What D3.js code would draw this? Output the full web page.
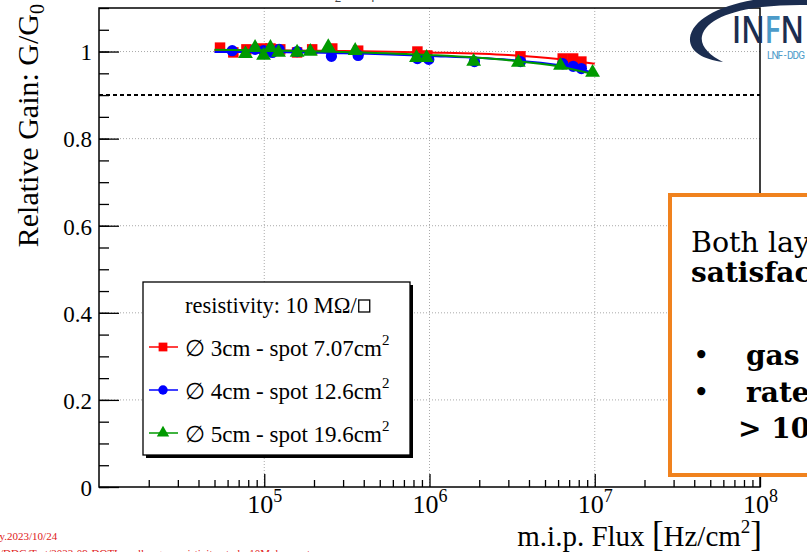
<!doctype html>
<html>
  <head>
    <script src="https://cdn.jsdelivr.net/npm/d3@7"></script>
    <style>
      body { margin: 0; background: #fff; }
      svg { display: block; }
      text { font-family: "Liberation Serif", "Times New Roman", serif; }
    </style>
  </head>
  <body>
    <svg id="chart" width="807" height="552"></svg>

    <script>
      // flux [Hz/cm2] and relative gain, one pair of arrays per beam spot
      var flux3cm = [5.4e4, 6.5e4, 7.8e4, 9.7e4, 1.09e5, 1.25e5, 1.58e5, 1.95e5, 2.58e5, 3.7e5, 8.45e5, 9.7e5, 3.55e6, 6.4e6, 7.4e6, 8.3e6];
      var gain3cm = [1.009, 0.998, 1.005, 1.007, 1.007, 1.005, 0.998, 1.005, 1.007, 1.002, 1.000, 0.991, 0.989, 0.984, 0.984, 0.977];

      var flux4cm = [6.4e4, 8.8e4, 9.9e4, 1.12e5, 1.23e5, 1.58e5, 2.55e5, 3.7e5, 8.45e5, 9.9e5, 1.87e6, 3.55e6, 6.4e6, 7.4e6, 8.3e6];
      var gain4cm = [1.002, 1.005, 1.002, 0.998, 1.005, 1.000, 0.989, 0.991, 0.984, 0.982, 0.977, 0.977, 0.972, 0.966, 0.961];

      var flux5cm = [7.7e4, 8.8e4, 9.9e4, 1.09e5, 1.22e5, 1.58e5, 1.9e5, 2.44e5, 3.55e5, 8.34e5, 9.6e5, 1.85e6, 3.45e6, 6.2e6, 9.7e6];
      var gain5cm = [0.995, 1.009, 0.991, 1.009, 0.998, 0.998, 1.000, 1.011, 1.002, 0.986, 0.986, 0.977, 0.975, 0.968, 0.952];

      // fit curves
      var fitFlux = [5e4, 1e5, 3e5, 1e6, 3e6, 6e6, 1e7];
      var fit3cm = [1.003, 1.003, 1.001, 0.998, 0.992, 0.983, 0.972];
      var fit4cm = [0.999, 0.999, 0.996, 0.990, 0.981, 0.969, 0.951];
      var fit5cm = [1.004, 1.003, 0.999, 0.992, 0.980, 0.966, 0.947];

      var legendLabels = ["3cm - spot 7.07cm", "4cm - spot 12.6cm", "5cm - spot 19.6cm"];
      var xMajor = [1e5, 1e6, 1e7, 1e8];
      var yMajor = [0, 0.2, 0.4, 0.6, 0.8, 1];
      var threshold = 0.9;

      var svg = d3.select("#chart");
      var x = d3.scaleLog().domain([1e4, 1e8]).range([99, 760]);
      var y = d3.scaleLinear().domain([0, 1.1]).range([487, 8]);

      // grid
      var grid = svg.append("g")
        .attr("stroke", "#aaa")
        .attr("stroke-width", 1)
        .attr("stroke-dasharray", "1,2");
      grid.selectAll(".gx").data([1e5, 1e6, 1e7]).enter().append("line")
        .attr("x1", d => x(d)).attr("x2", d => x(d))
        .attr("y1", 8).attr("y2", 487);
      grid.selectAll(".gy").data(yMajor.slice(1)).enter().append("line")
        .attr("x1", 99).attr("x2", 760)
        .attr("y1", d => y(d)).attr("y2", d => y(d));

      // 90% line
      svg.append("line")
        .attr("x1", 99).attr("x2", 760)
        .attr("y1", y(threshold)).attr("y2", y(threshold))
        .attr("stroke", "#000").attr("stroke-width", 2)
        .attr("stroke-dasharray", "4,3");

      // axes
      var xMinor = [];
      [1e4, 1e5, 1e6, 1e7].forEach(function(dec) {
        for (var k = 2; k <= 9; k++) xMinor.push(dec * k);
      });
      var yMinor = d3.range(0, 1.1001, 0.05).map(d => +d.toFixed(2));

      svg.append("g").attr("transform", "translate(0,487)")
        .call(d3.axisBottom(x).tickValues(xMinor).tickSize(-7).tickFormat(""))
        .call(g => g.select(".domain").remove());
      var xAxis = svg.append("g").attr("transform", "translate(0,487)")
        .call(d3.axisBottom(x).tickValues(xMajor).tickSize(-13).tickPadding(8).tickFormat(""))
        .call(g => g.select(".domain").remove());
      xAxis.selectAll(".tick text").remove();
      xAxis.selectAll(".tick").append("text")
        .attr("y", 26)
        .attr("fill", "#000")
        .attr("text-anchor", "middle")
        .style("font-size", "26px")
        .each(function(d) {
          var t = d3.select(this);
          t.append("tspan").text("10");
          t.append("tspan").attr("dy", -11).style("font-size", "18px").text(Math.round(Math.log10(d)));
        });

      svg.append("g").attr("transform", "translate(99,0)")
        .call(d3.axisLeft(y).tickValues(yMinor).tickSize(-10).tickFormat(""))
        .call(g => g.select(".domain").remove());
      svg.append("g").attr("transform", "translate(99,0)")
        .call(d3.axisLeft(y).tickValues(yMajor).tickSize(-20).tickPadding(7).tickFormat(d3.format("")))
        .call(g => g.select(".domain").remove())
        .call(g => g.selectAll("text").style("font-size", "23px").style("font-family", "Liberation Serif").attr("dy", "0.36em"));

      svg.selectAll(".tick line").attr("stroke", "#000").attr("stroke-width", 1.3);

      // frame
      svg.append("rect")
        .attr("x", 99).attr("y", 8).attr("width", 661).attr("height", 479)
        .attr("fill", "none").attr("stroke", "#000").attr("stroke-width", 1.5);

      // series
      var series = [
        {flux: flux3cm, gain: gain3cm, fit: fit3cm, color: "#ff0000", symbol: d3.symbolSquare, size: 110},
        {flux: flux4cm, gain: gain4cm, fit: fit4cm, color: "#0000ff", symbol: d3.symbolCircle, size: 100},
        {flux: flux5cm, gain: gain5cm, fit: fit5cm, color: "#009a00", symbol: d3.symbolTriangle, size: 95}
      ];

      var line = d3.line()
        .x(d => x(d[0]))
        .y(d => y(d[1]))
        .curve(d3.curveMonotoneX);

      series.forEach(function(s) {
        var pts = s.flux.map((f, i) => [f, s.gain[i]]);
        svg.append("g").selectAll("path").data(pts).enter().append("path")
          .attr("transform", d => "translate(" + x(d[0]) + "," + y(d[1]) + ")")
          .attr("d", d3.symbol().type(s.symbol).size(s.size))
          .attr("fill", s.color);
        svg.append("path")
          .datum(fitFlux.map((f, i) => [f, s.fit[i]]))
          .attr("d", line)
          .attr("fill", "none")
          .attr("stroke", s.color)
          .attr("stroke-width", 2);
      });

      // legend
      var leg = svg.append("g");
      leg.append("rect").attr("x", 146).attr("y", 285).attr("width", 267).attr("height", 173).attr("fill", "#000");
      leg.append("rect").attr("x", 143).attr("y", 282).attr("width", 267).attr("height", 173)
        .attr("fill", "#fff").attr("stroke", "#000").attr("stroke-width", 1.3);
      var title = leg.append("text").attr("x", 185).attr("y", 313).style("font-size", "22.5px")
        .text("resistivity: 10 M\u03A9/");
      var tw = title.node().getComputedTextLength();
      leg.append("rect").attr("x", 185 + tw + 2).attr("y", 300).attr("width", 11).attr("height", 12)
        .attr("fill", "none").attr("stroke", "#000").attr("stroke-width", 1.3);

      series.forEach(function(s, i) {
        var cy = 347 + i * 43;
        leg.append("line").attr("x1", 149).attr("x2", 178).attr("y1", cy).attr("y2", cy)
          .attr("stroke", s.color).attr("stroke-width", 1.5);
        leg.append("path").attr("transform", "translate(163," + cy + ")")
          .attr("d", d3.symbol().type(s.symbol).size(s.size * 0.7)).attr("fill", s.color);
        var t = leg.append("text").attr("x", 185).attr("y", cy + 9).style("font-size", "23px");
        t.append("tspan").text("\u2205 " + legendLabels[i]);
        t.append("tspan").attr("dy", -11).style("font-size", "15px").text("2");
      });

      // axis titles
      var xt = svg.append("text").attr("x", 762).attr("y", 546).attr("text-anchor", "end").style("font-size", "29px");
      xt.append("tspan").text("m.i.p. Flux ");
      xt.append("tspan").style("font-size", "35px").text("[");
      xt.append("tspan").text("Hz/cm");
      xt.append("tspan").attr("dy", -13).style("font-size", "19px").text("2");
      xt.append("tspan").attr("dy", 13).style("font-size", "35px").text("]");

      var yt = svg.append("text").attr("transform", "translate(38,4) rotate(-90)")
        .attr("text-anchor", "end").style("font-size", "30px");
      yt.append("tspan").text("Relative Gain: G/G");
      yt.append("tspan").attr("dy", 6).style("font-size", "20px").text("0");

      // clipped title at the very top
      var tt = svg.append("text").attr("x", 120).attr("y", -4).style("font-size", "18px").attr("fill", "#444");
      tt.append("tspan").text("\u03BC-RWELL, 6 mm gap, Ar/CO");
      tt.append("tspan").attr("dy", 6).style("font-size", "13px").text("2");
      tt.append("tspan").attr("dy", -6).text("/CF");
      tt.append("tspan").attr("dy", 6).style("font-size", "13px").text("4");
      tt.append("tspan").attr("dy", -6).text(" 45/15/40, X-ray 8 keV, readout strip gap, pitch 0.4 mm, G");
      tt.append("tspan").attr("dy", 6).style("font-size", "13px").text("101");

      // INFN logo
      var logo = svg.append("g");
      logo.append("path")
        .attr("d", "M 807 -4 C 742 -5 693 13 690 38 C 689 51 702 59 723 62 C 709 55 700 46 702 36 C 707 15 750 4 807 5 Z")
        .attr("fill", "#1b2d50");
      var lt = logo.append("text").attr("x", 732).attr("y", 43)
        .style("font-family", "Open Sans, sans-serif").style("font-size", "38px").style("font-weight", "600")
        .attr("fill", "#1b2d50").attr("textLength", 72).attr("lengthAdjust", "spacingAndGlyphs");
      lt.append("tspan").text("IN");
      lt.append("tspan").attr("fill", "#4c9bc9").text("F");
      lt.append("tspan").text("N");
      logo.append("text").attr("x", 767).attr("y", 59)
        .style("font-family", "Roboto, sans-serif").style("font-size", "10px").attr("fill", "#4c9bc9")
        .attr("textLength", 38).text("LNF - DDG");

      // orange note box
      var note = svg.append("g");
      note.append("rect").attr("x", 670).attr("y", 195).attr("width", 160).attr("height", 280)
        .attr("fill", "#fff").attr("stroke", "#f0821e").attr("stroke-width", 4);
      var nf = "DejaVu Serif, serif";
      note.append("text").attr("x", 691).attr("y", 252).style("font-family", nf).style("font-size", "28.5px").text("Both layers");
      note.append("text").attr("x", 691).attr("y", 282).style("font-family", nf).style("font-size", "28px")
        .style("font-weight", "bold").text("satisfactory");
      note.append("text").attr("x", 693).attr("y", 365).style("font-family", nf).style("font-size", "28px").text("\u2022");
      note.append("text").attr("x", 746).attr("y", 365).style("font-family", nf).style("font-size", "28px")
        .style("font-weight", "bold").text("gas gain");
      note.append("text").attr("x", 693).attr("y", 402).style("font-family", nf).style("font-size", "28px").text("\u2022");
      note.append("text").attr("x", 746).attr("y", 402).style("font-family", nf).style("font-size", "28px")
        .style("font-weight", "bold").text("rate capability");
      note.append("text").attr("x", 738).attr("y", 438).style("font-family", nf).style("font-size", "28px")
        .style("font-weight", "bold").text("> 10 MHz/cm2");

      // red footer
      svg.append("text").attr("x", -6).attr("y", 540).attr("fill", "#e02020")
        .style("font-size", "11px").text("dy.2023/10/24");
      svg.append("text").attr("x", 0).attr("y", 557).attr("fill", "#e02020")
        .style("font-size", "11px").text("/DDG/Test/2023-09-DOTI-rwell-mgas-resistivity-study-10Mohm.root");
    </script>
  </body>
</html>
